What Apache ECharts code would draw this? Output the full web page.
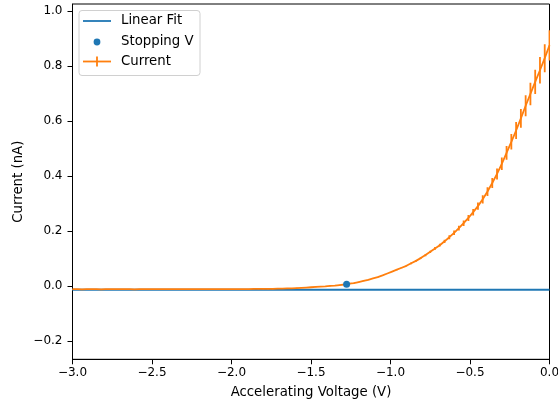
<!DOCTYPE html>
<html>
<head>
<meta charset="utf-8">
<script src="https://cdn.jsdelivr.net/npm/echarts@6/dist/echarts.min.js"></script>
<style>html,body{margin:0;padding:0;background:#fff}#c{width:558px;height:404px}</style>
</head>
<body>
<div id="c"></div>
<script>
// Accelerating voltage (V)
const voltage = [
-3.00,-2.97,-2.94,-2.91,-2.88,-2.85,-2.82,-2.79,-2.76,-2.73,
-2.70,-2.67,-2.64,-2.61,-2.58,-2.55,-2.52,-2.49,-2.46,-2.43,
-2.40,-2.37,-2.34,-2.31,-2.28,-2.25,-2.22,-2.19,-2.16,-2.13,
-2.10,-2.07,-2.04,-2.01,-1.98,-1.95,-1.92,-1.89,-1.86,-1.83,
-1.80,-1.77,-1.74,-1.71,-1.68,-1.65,-1.62,-1.59,-1.56,-1.53,
-1.50,-1.47,-1.44,-1.41,-1.38,-1.35,-1.32,-1.29,-1.26,-1.23,
-1.20,-1.17,-1.14,-1.11,-1.08,-1.05,-1.02,-0.99,-0.96,-0.93,
-0.90,-0.87,-0.84,-0.81,-0.78,-0.75,-0.72,-0.69,-0.66,-0.63,
-0.60,-0.57,-0.54,-0.51,-0.48,-0.45,-0.42,-0.39,-0.36,-0.33,
-0.30,-0.27,-0.24,-0.21,-0.18,-0.15,-0.12,-0.09,-0.06,-0.03,
0.00
];
// Measured current (nA)
const current = [
-0.012,-0.012,-0.013,-0.012,-0.012,-0.012,-0.013,-0.012,-0.012,-0.012,
-0.012,-0.012,-0.012,-0.013,-0.012,-0.012,-0.012,-0.012,-0.012,-0.012,
-0.012,-0.012,-0.012,-0.012,-0.012,-0.012,-0.012,-0.012,-0.012,-0.012,
-0.012,-0.012,-0.012,-0.012,-0.012,-0.012,-0.012,-0.012,-0.011,-0.011,
-0.011,-0.011,-0.011,-0.010,-0.010,-0.009,-0.009,-0.008,-0.007,-0.006,
-0.005,-0.004,-0.003,-0.002,0.000,0.001,0.003,0.005,0.008,0.010,
0.014,0.018,0.022,0.027,0.032,0.038,0.045,0.052,0.059,0.066,
0.073,0.082,0.091,0.101,0.112,0.124,0.136,0.148,0.162,0.177,
0.193,0.210,0.228,0.247,0.268,0.290,0.315,0.343,0.374,0.407,
0.444,0.484,0.524,0.565,0.609,0.655,0.698,0.742,0.784,0.828,
0.875
];
// Error on current (nA)
const currentErr = [
0.001,0.001,0.001,0.001,0.001,0.001,0.001,0.001,0.001,0.001,
0.001,0.001,0.001,0.001,0.001,0.001,0.001,0.001,0.001,0.001,
0.001,0.001,0.001,0.001,0.001,0.001,0.001,0.001,0.001,0.001,
0.001,0.001,0.001,0.001,0.001,0.001,0.001,0.001,0.001,0.001,
0.001,0.001,0.001,0.001,0.001,0.001,0.001,0.001,0.001,0.001,
0.001,0.001,0.001,0.001,0.001,0.001,0.001,0.001,0.001,0.001,
0.001,0.001,0.001,0.001,0.001,0.001,0.001,0.001,0.002,0.002,
0.002,0.003,0.003,0.003,0.004,0.004,0.005,0.005,0.006,0.007,
0.008,0.009,0.010,0.011,0.012,0.013,0.015,0.016,0.018,0.020,
0.023,0.025,0.028,0.031,0.034,0.038,0.041,0.044,0.048,0.051,
0.055
];
// Linear fit of the baseline
const fitX = [-3.0, 0.0];
const fitY = [-0.014, -0.014];
// Stopping voltage point
const stopX = [-1.276];
const stopY = [0.006];
// Tick values
const xTicks = [-3.0, -2.5, -2.0, -1.5, -1.0, -0.5, 0.0];
const yTicks = [-0.2, 0.0, 0.2, 0.4, 0.6, 0.8, 1.0];

const BLUE = '#1f77b4', ORANGE = '#ff7f0e';
const FONT = 'DejaVu Sans';
const fmt = v => (v < -1e-9 ? '\u2212' : '') + Math.abs(v).toFixed(1);

const chart = echarts.init(document.getElementById('c'), null, {renderer: 'canvas'});

const lineData = voltage.map((v, i) => [v, current[i]]);
const errData = voltage.map((v, i) => [v, current[i], currentErr[i]]);
const fitData = fitX.map((v, i) => [v, fitY[i]]);
const stopData = stopX.map((v, i) => [v, stopY[i]]);

const LF = '13.3px "DejaVu Sans"';
chart.setOption({
  animation: false,
  backgroundColor: '#fff',
  grid: {left: 72.5, top: 4, width: 477, height: 355.3, show: true,
         borderColor: '#000', borderWidth: 1, backgroundColor: 'transparent',
         containLabel: false, outerBoundsMode: 'none'},
  xAxis: {
    type: 'value', min: -3, max: 0, interval: 0.5,
    name: 'Accelerating Voltage (V)', nameLocation: 'middle', nameGap: 27, nameMoveOverlap: false,
    nameTextStyle: {fontFamily: FONT, fontSize: 13.3, color: '#000'},
    axisLine: {show: true, onZero: false, lineStyle: {color: '#000', width: 1}},
    axisTick: {show: true, length: 5, lineStyle: {color: '#000', width: 1}},
    axisLabel: {fontFamily: FONT, fontSize: 12, color: '#000', margin: 8, formatter: fmt,
                showMinLabel: true, showMaxLabel: true},
    splitLine: {show: false}
  },
  yAxis: {
    type: 'value', min: -0.267, max: 1.025,
    name: 'Current (nA)', nameLocation: 'middle', nameGap: 47, nameRotate: 90, nameMoveOverlap: false,
    nameTextStyle: {fontFamily: FONT, fontSize: 13.3, color: '#000'},
    axisLine: {show: true, onZero: false, lineStyle: {color: '#000', width: 1}},
    axisTick: {show: true, length: 5, customValues: yTicks, lineStyle: {color: '#000', width: 1}},
    axisLabel: {fontFamily: FONT, fontSize: 12, color: '#000', margin: 10, formatter: fmt,
                customValues: yTicks},
    splitLine: {show: false}
  },
  series: [
    {name: 'Linear Fit', type: 'line', data: fitData, symbol: 'none', z: 2,
     lineStyle: {color: BLUE, width: 1.8}, itemStyle: {color: BLUE}},
    {name: 'Current', type: 'custom', data: errData, z: 3, clip: true,
     renderItem: function (params, api) {
       const x = api.value(0), y = api.value(1), e = api.value(2);
       const p1 = api.coord([x, y - e]);
       const p2 = api.coord([x, y + e]);
       return {type: 'line', shape: {x1: p1[0], y1: p1[1], x2: p2[0], y2: p2[1]},
               style: {stroke: ORANGE, lineWidth: 1.8}};
     }},
    {name: 'Current', type: 'line', data: lineData, symbol: 'none', z: 4,
     lineStyle: {color: ORANGE, width: 1.8}, itemStyle: {color: ORANGE}},
    {name: 'Stopping V', type: 'scatter', data: stopData, symbol: 'circle', symbolSize: 7, z: 5,
     itemStyle: {color: BLUE, opacity: 1}}
  ],
  graphic: [
    {type: 'rect', z: 100, shape: {x: 79, y: 10.5, width: 121, height: 65, r: 3},
     style: {fill: 'rgba(255,255,255,0.8)', stroke: '#d0d0d0', lineWidth: 1}},
    {type: 'line', z: 101, shape: {x1: 83, y1: 21, x2: 111, y2: 21}, style: {stroke: BLUE, lineWidth: 1.8}},
    {type: 'text', z: 101, x: 121, y: 21, style: {text: 'Linear Fit', font: LF, fill: '#000', verticalAlign: 'middle', align: 'left'}},
    {type: 'circle', z: 101, shape: {cx: 97, cy: 42, r: 3.4}, style: {fill: BLUE}},
    {type: 'text', z: 101, x: 121, y: 41.5, style: {text: 'Stopping V', font: LF, fill: '#000', verticalAlign: 'middle', align: 'left'}},
    {type: 'line', z: 101, shape: {x1: 83, y1: 61.5, x2: 111, y2: 61.5}, style: {stroke: ORANGE, lineWidth: 1.8}},
    {type: 'line', z: 101, shape: {x1: 97, y1: 56.5, x2: 97, y2: 66.5}, style: {stroke: ORANGE, lineWidth: 1.8}},
    {type: 'text', z: 101, x: 121, y: 61.5, style: {text: 'Current', font: LF, fill: '#000', verticalAlign: 'middle', align: 'left'}}
  ]
});
</script>
</body>
</html>
